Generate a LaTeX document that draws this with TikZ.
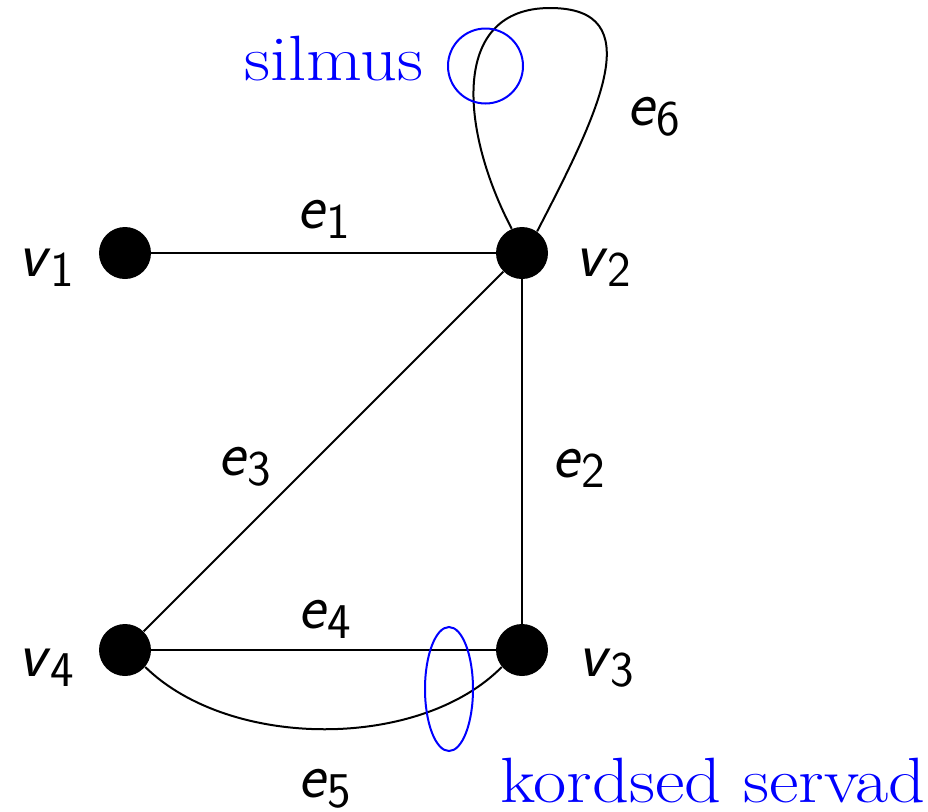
\documentclass[tikz,border=0pt]{standalone}
\usetikzlibrary{shapes.geometric}
\newcommand{\glab}[2]{#1\/\raisebox{-5pt}{\fontsize{25}{30}\selectfont\upshape #2}}
\newcommand{\widetxt}[1]{\scalebox{1.13}[1]{#1}}
\tikzset{
  vtx/.style={circle, fill=black, inner sep=0pt, minimum size=26pt},
  lbl/.style={font=\fontsize{32}{38}\selectfont\sffamily\itshape, inner sep=0pt, anchor=base west},
  btxt/.style={font=\fontsize{32}{38}\selectfont, text=blue, inner sep=0pt, anchor=base west},
  gline/.style={line width=1pt, black},
  bline/.style={line width=1pt, blue}
}
\begin{document}
\begin{tikzpicture}[x=0.5pt,y=-0.5pt]
\useasboundingbox (0,0) rectangle (928,811);
\node[vtx] (v1) at (125,253) {};
\node[vtx] (v2) at (522,253) {};
\node[vtx] (v3) at (522,650) {};
\node[vtx] (v4) at (125,650) {};
\draw[gline] (v1) -- (v2);
\draw[gline] (v2) -- (v3);
\draw[gline] (v2) -- (v4);
\draw[gline] (v4) -- (v3);
\draw[gline] (v4.-40) .. controls (230,750) and (420,750) .. (v3.-140);
\draw[gline] (v2.113) .. controls (460,130) and (450,8) .. (550,8) .. controls (650,8) and (600,110) .. (v2.55);
\node[draw=blue, line width=1pt, circle, minimum size=37.5pt, inner sep=0pt] (loopmark) at (485.5,66) {};
\node[draw=blue, line width=1pt, ellipse, minimum width=24pt, minimum height=62pt, inner sep=0pt] (multimark) at (449,689) {};
\node[lbl] (lv1) at (18,276) {\glab{v}{1}};
\node[lbl] (lv2) at (575,276) {\glab{v}{2}};
\node[lbl] (lv3) at (578,676) {\glab{v}{3}};
\node[lbl] (lv4) at (18,676) {\glab{v}{4}};
\node[lbl] (le1) at (297,228) {\glab{e}{1}};
\node[lbl] (le2) at (552,477) {\glab{e}{2}};
\node[lbl] (le3) at (218,475) {\glab{e}{3}};
\node[lbl] (le4) at (298,628) {\glab{e}{4}};
\node[lbl] (le5) at (298,797) {\glab{e}{5}};
\node[lbl] (le6) at (627,125) {\glab{e}{6}};
\node[btxt] (silmus) at (244,80) {\widetxt{silmus}};
\node[btxt] (kordsed) at (500,802) {\widetxt{kordsed servad}};
\end{tikzpicture}
\end{document}
